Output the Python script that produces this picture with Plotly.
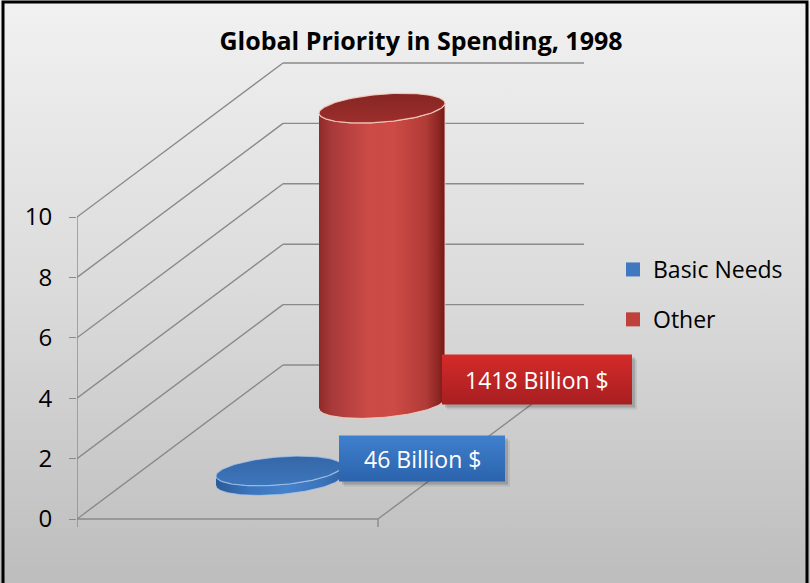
import base64
import numpy as np
import plotly.graph_objects as go

# ---- data ----
series_names = ["Basic Needs", "Other"]
spending_billion = [46, 1418]
value_ticks = [0, 2, 4, 6, 8, 10]
chart_title = "Global Priority in Spending, 1998"

# ---- page / projection settings ----
W, H = 810, 583
FONT = "Open Sans"
BILLION_PER_UNIT = 145.0          # one value-axis unit, in billion $
ROW_DEPTH = [0.25, 0.75]          # depth row of each series (front, back)
CATEGORY_CENTER = 0.5

PLOT_LEFT = 77                    # px, left edge of the value axis
PX_PER_CAT = 301.0                # px width of the category floor
PX_PER_UNIT = 30.2                # px per value unit
FLOOR_PX = 519.0                  # px of value 0 on the front axis
DEPTH_PX = (206.0, 154.0)         # px offset of the back wall

DX = DEPTH_PX[0] / PX_PER_CAT
DY = DEPTH_PX[1] / PX_PER_UNIT


def hx(px):
    return px / PX_PER_CAT


def vy(px):
    return px / PX_PER_UNIT


def proj(u, d, v):
    """oblique projection: category position, depth fraction, value"""
    return u + d * DX, v + d * DY


GRID = "#8a8a8a"
fig = go.Figure()

# ---- walls & floor ----
gx, gy = [], []
segments = []
for v in value_ticks:
    segments.append(((0, 0, v), (0, 1, v)))   # side wall
    segments.append(((0, 1, v), (1, 1, v)))   # back wall
segments.append(((0, 0, 0), (1, 0, 0)))       # floor front edge
segments.append(((1, 0, 0), (1, 1, 0)))       # floor right edge
for a, b in segments:
    x0, y0 = proj(*a)
    x1, y1 = proj(*b)
    gx += [x0, x1, None]
    gy += [y0, y1, None]
fig.add_trace(go.Scatter(x=gx, y=gy, mode="lines", line=dict(color=GRID, width=1.4),
                         hoverinfo="skip", showlegend=False))

# value axis line and category tick marks
ax_x = [0, 0, None, 0, 0, None, 1, 1]
ax_y = [0, value_ticks[-1], None, 0, -vy(8), None, 0, -vy(8)]
fig.add_trace(go.Scatter(x=ax_x, y=ax_y, mode="lines", line=dict(color=GRID, width=1.4),
                         hoverinfo="skip", showlegend=False))

# ---- cylinders ----
side_scales = [
    [[0, "#2b5a97"], [0.25, "#3a73ba"], [0.55, "#4582cc"], [0.85, "#3b73b9"], [1, "#2f62a4"]],
    [[0, "#8e2b28"], [0.1, "#a8393a"], [0.4, "#cc4b46"], [0.6, "#cd4a45"],
     [0.85, "#b03b37"], [0.95, "#8c2522"], [1, "#6f1b19"]],
]
top_scales = [
    [[0, "#3e76bb"], [1, "#3467a8"]],
    [[0, "#9c2f2c"], [1, "#862523"]],
]
rim_colors = ["rgba(170,200,235,0.7)", "rgba(245,205,190,0.9)"]
legend_colors = ["#3f78c0", "#c0403c"]
box_scales = [
    [[0, "#2b63ac"], [1, "#3f80cd"]],
    [[0, "#a81e21"], [1, "#d42b29"]],
]
box_size_px = [(166, 46), (190, 50)]

RX = hx(63)
RY = vy(14)
TILT = vy(5)

t_low = np.linspace(np.pi, 2 * np.pi, 80)
t_all = np.linspace(0, 2 * np.pi, 160)

# draw the back row first
order = sorted(range(len(series_names)), key=lambda i: -ROW_DEPTH[i])
for i in order:
    cx, base = proj(CATEGORY_CENTER, ROW_DEPTH[i], 0)
    top = base + spending_billion[i] / BILLION_PER_UNIT

    xb = cx + RX * np.cos(t_low)
    yb = base + RY * np.sin(t_low) + TILT * np.cos(t_low)
    xt = cx + RX * np.cos(t_low[::-1])
    yt = top + RY * np.sin(t_low[::-1]) + TILT * np.cos(t_low[::-1])
    fig.add_trace(go.Scatter(
        x=np.concatenate([xb, xt]), y=np.concatenate([yb, yt]),
        fill="toself", mode="lines", line=dict(color=rim_colors[i], width=1),
        fillgradient=dict(type="horizontal", colorscale=side_scales[i]),
        hoverinfo="skip", showlegend=False))

    fig.add_trace(go.Scatter(
        x=cx + RX * np.cos(t_all),
        y=top + RY * np.sin(t_all) + TILT * np.cos(t_all),
        fill="toself", mode="lines", line=dict(color=rim_colors[i], width=1.2),
        fillgradient=dict(type="vertical", colorscale=top_scales[i]),
        hoverinfo="skip", showlegend=False))

# ---- value labels ----
for i in order:
    cx, base = proj(CATEGORY_CENTER, ROW_DEPTH[i], 0)
    bw, bh = box_size_px[i]
    x0 = cx + RX - hx(3)
    x1 = x0 + hx(bw)
    y0 = base - vy(1)
    y1 = y0 + vy(bh)
    # soft drop shadow
    for off, alpha in [((5, 5), 0.08), ((3, 3), 0.15)]:
        sx, sy = hx(off[0]), vy(off[1])
        fig.add_trace(go.Scatter(
            x=[x0 + sx, x1 + sx, x1 + sx, x0 + sx, x0 + sx],
            y=[y0 - sy, y0 - sy, y1 - sy, y1 - sy, y0 - sy],
            fill="toself", mode="lines", line=dict(width=0),
            fillcolor=f"rgba(0,0,0,{alpha})", hoverinfo="skip", showlegend=False))
    fig.add_trace(go.Scatter(
        x=[x0, x1, x1, x0, x0], y=[y0, y0, y1, y1, y0],
        fill="toself", mode="lines", line=dict(width=0),
        fillgradient=dict(type="vertical", colorscale=box_scales[i]),
        hoverinfo="skip", showlegend=False))
    fig.add_annotation(x=(x0 + x1) / 2, y=(y0 + y1) / 2, xref="x", yref="y",
                       text=f"{spending_billion[i]} Billion $", showarrow=False,
                       font=dict(family=FONT, size=23, color="white"))

# ---- legend entries ----
for i, name in enumerate(series_names):
    fig.add_trace(go.Scatter(
        x=[None], y=[None], mode="markers", name=name, legendgroup=name,
        marker=dict(symbol="square", size=14, color=legend_colors[i]),
        hoverinfo="skip"))

# ---- background ----
svg = (
    f'<svg xmlns="http://www.w3.org/2000/svg" width="{W}" height="{H}">'
    '<defs><linearGradient id="g" x1="0" y1="0" x2="0" y2="1">'
    '<stop offset="0" stop-color="#f1f1f1"/>'
    '<stop offset="0.5" stop-color="#dbdbdb"/>'
    '<stop offset="1" stop-color="#bdbdbd"/>'
    '</linearGradient></defs>'
    f'<rect width="{W}" height="{H}" fill="url(#g)"/></svg>'
)
bg_uri = "data:image/svg+xml;base64," + base64.b64encode(svg.encode()).decode()

fig.update_layout(
    width=W, height=H,
    margin=dict(l=PLOT_LEFT, r=0, t=0, b=0, pad=0),
    paper_bgcolor="#d8d8d8",
    plot_bgcolor="rgba(0,0,0,0)",
    images=[dict(source=bg_uri, xref="paper", yref="paper", x=-PLOT_LEFT / (W - PLOT_LEFT),
                 y=1, sizex=W / (W - PLOT_LEFT), sizey=1, sizing="stretch",
                 xanchor="left", yanchor="top", layer="below")],
    title=dict(text=f"<b>{chart_title}</b>", x=421 / W, xanchor="center",
               y=1 - 41 / H, yanchor="middle", yref="container", xref="container",
               font=dict(family=FONT, size=25, color="black")),
    xaxis=dict(range=[0, (W - PLOT_LEFT) / PX_PER_CAT], visible=False, fixedrange=True),
    yaxis=dict(range=[-(H - FLOOR_PX) / PX_PER_UNIT, FLOOR_PX / PX_PER_UNIT],
               tickvals=value_ticks, ticks="outside", ticklen=7, tickwidth=1.4,
               tickcolor=GRID, showgrid=False, zeroline=False, showline=False,
               ticklabelstandoff=12, fixedrange=True,
               tickfont=dict(family=FONT, size=24, color="black")),
    legend=dict(x=(613 - PLOT_LEFT) / (W - PLOT_LEFT), xanchor="left",
                y=1 - 248 / H, yanchor="top", bgcolor="rgba(0,0,0,0)",
                font=dict(family=FONT, size=23, color="black"),
                tracegroupgap=17, itemsizing="trace"),
    shapes=[dict(type="rect", xref="paper", yref="paper",
                 x0=-(PLOT_LEFT - 3) / (W - PLOT_LEFT), x1=(W - 3 - PLOT_LEFT) / (W - PLOT_LEFT),
                 y0=-0.02, y1=1 - 2 / H, line=dict(color="black", width=3),
                 fillcolor="rgba(0,0,0,0)", layer="above")],
)

fig.write_html("out.html")
